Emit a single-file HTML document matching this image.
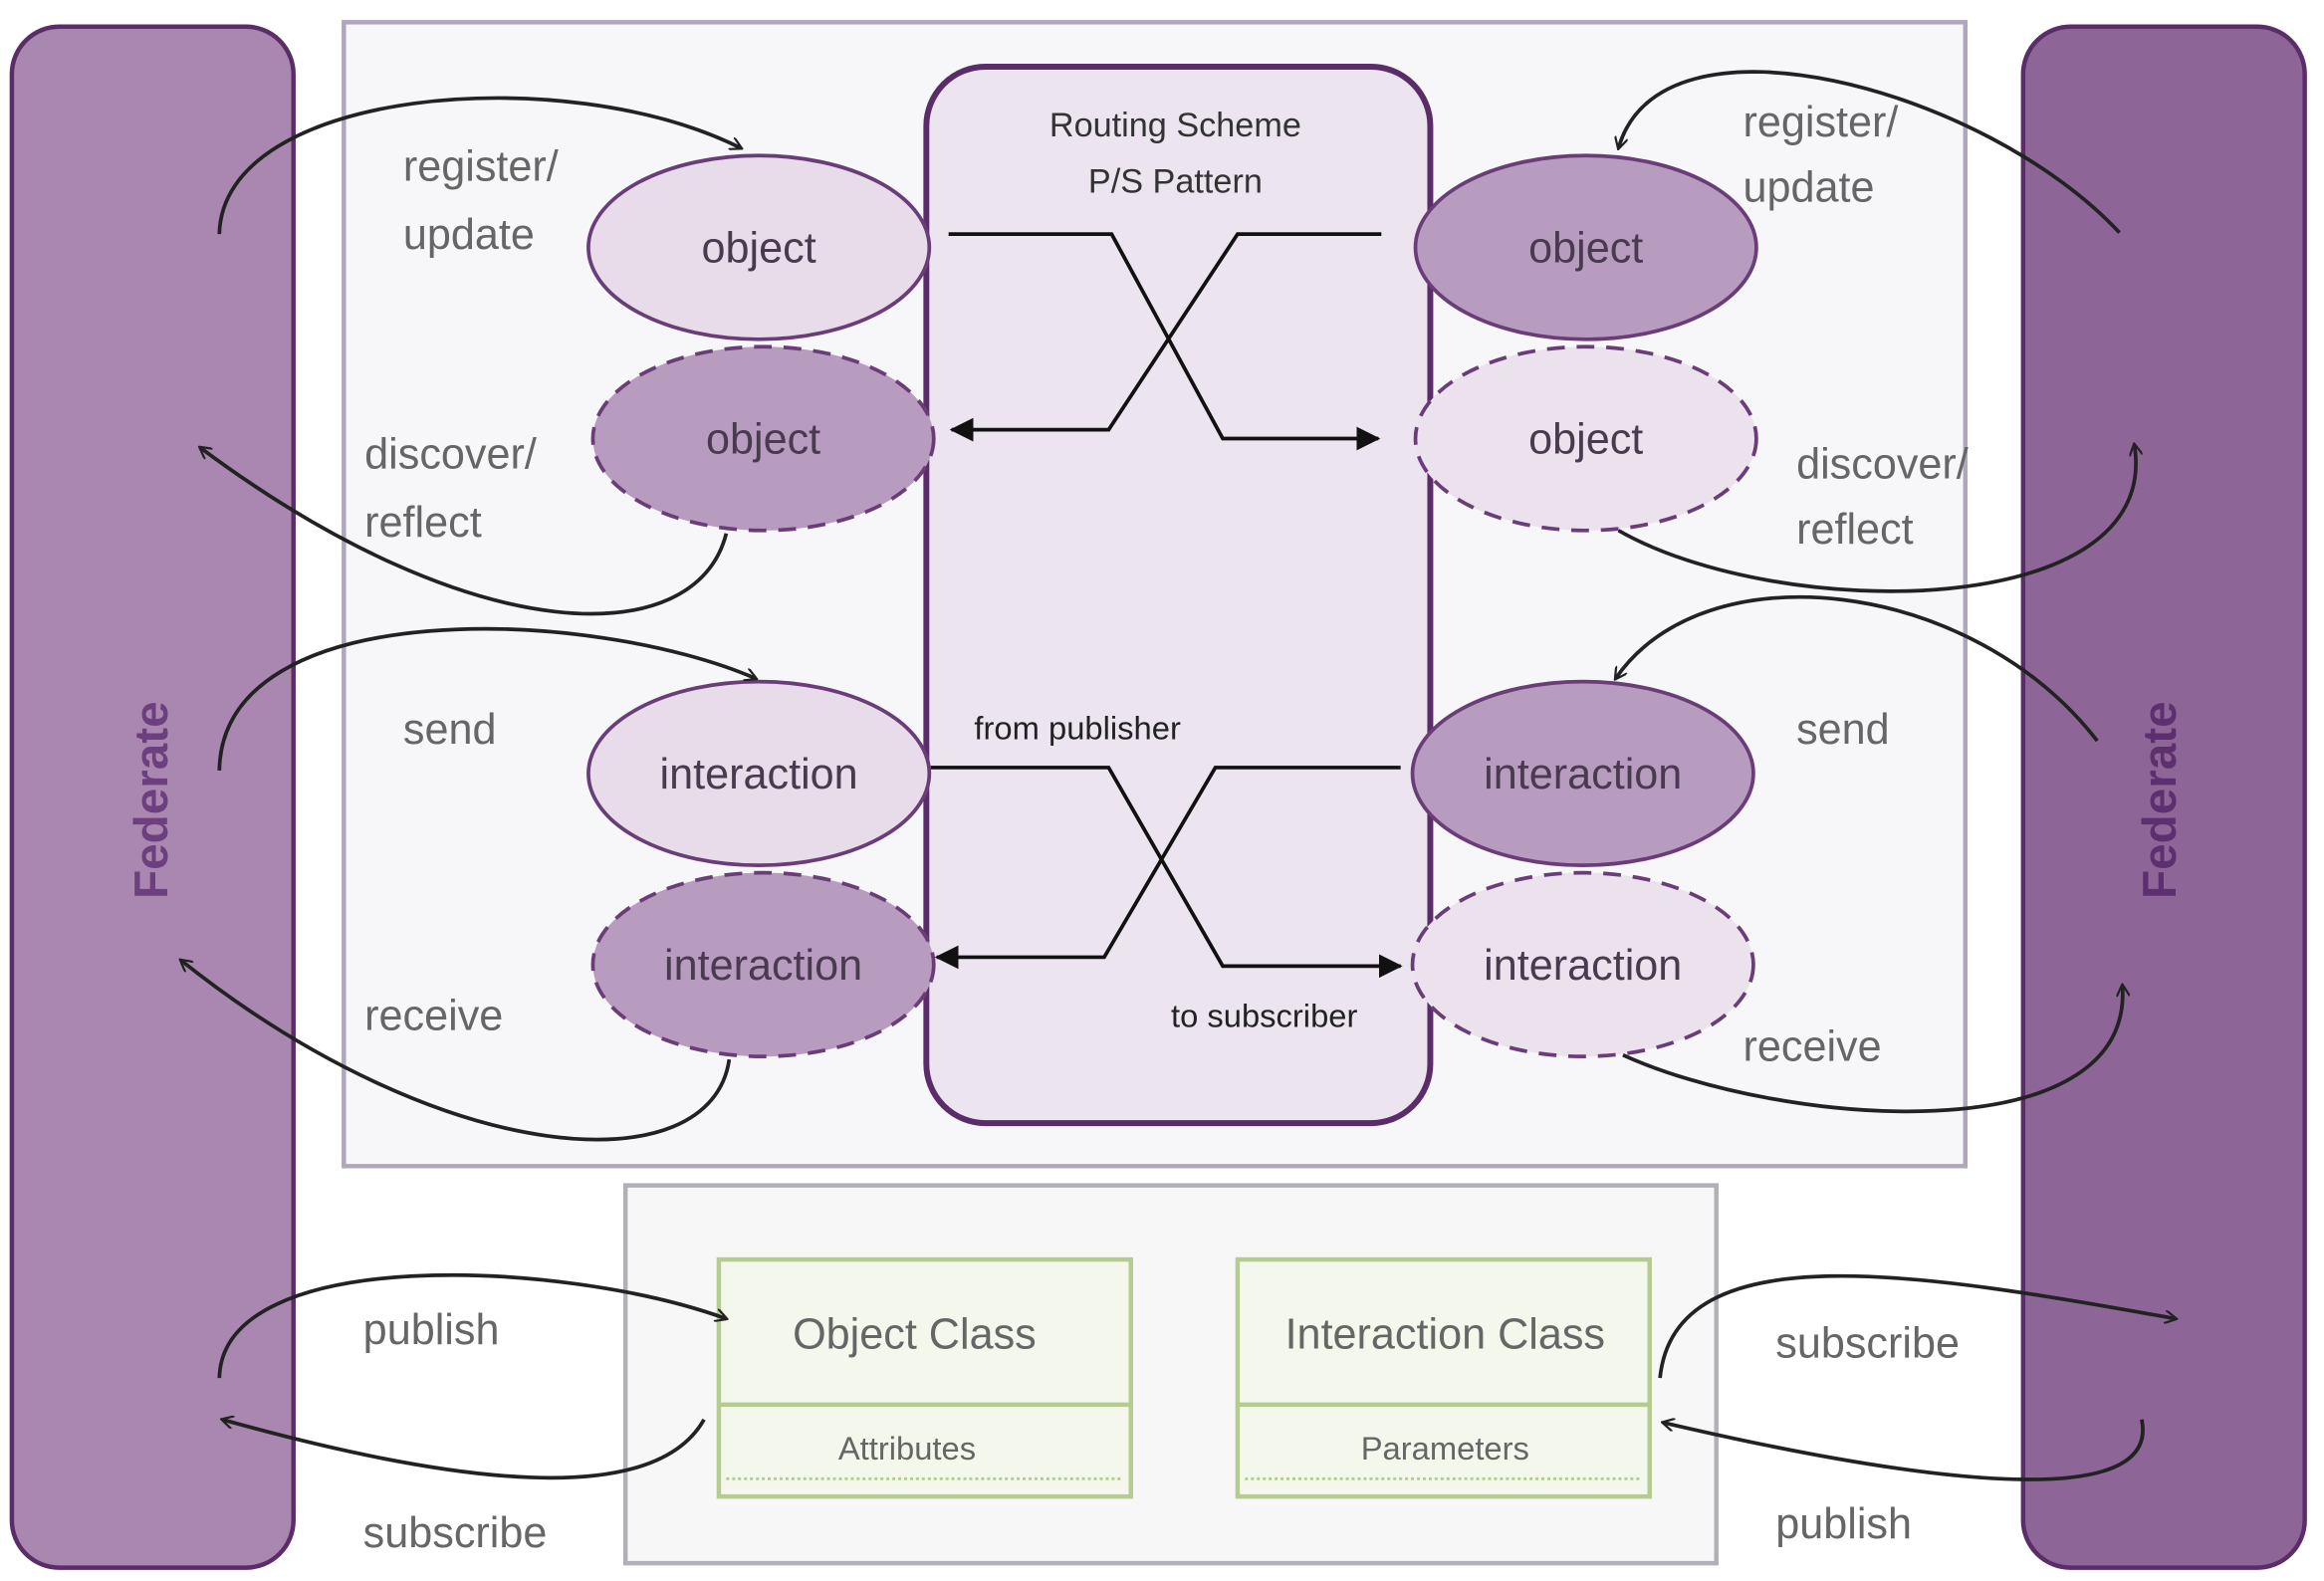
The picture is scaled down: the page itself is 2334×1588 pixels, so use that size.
<!DOCTYPE html>
<html><head><meta charset="utf-8"><style>html,body{margin:0;padding:0;background:#fff;}svg{display:block}</style></head>
<body>
<svg width="2334" height="1588" viewBox="0 0 1568 1067" preserveAspectRatio="none" xmlns="http://www.w3.org/2000/svg" font-family="'Liberation Sans', sans-serif">
<defs>
<marker id="a" viewBox="0 0 12 12" refX="10" refY="6" markerWidth="9" markerHeight="9" orient="auto" markerUnits="userSpaceOnUse"><path d="M0,0 L11,6 L0,12" fill="none" stroke="#222" stroke-width="2"/></marker>
<marker id="t" viewBox="0 0 12 12" refX="11" refY="6" markerWidth="16" markerHeight="16" orient="auto" markerUnits="userSpaceOnUse"><path d="M0,0 L12,6 L0,12 z" fill="#111"/></marker>
</defs>
<rect width="1568" height="1067" fill="#fff"/>
<!-- federates -->
<rect x="8" y="18" width="190" height="1040" rx="32" fill="#a987b0" stroke="#5a2d68" stroke-width="3"/>
<rect x="1365" y="18" width="190" height="1040" rx="32" fill="#8d6597" stroke="#5a2d68" stroke-width="3"/>
<text transform="translate(113,540) rotate(-90)" text-anchor="middle" font-size="32" font-weight="bold" fill="#6e3f7e">Federate</text>
<text transform="translate(1468,540) rotate(-90)" text-anchor="middle" font-size="32" font-weight="bold" fill="#5e2f6e">Federate</text>
<!-- main box -->
<rect x="232" y="15" width="1094" height="772" fill="#f7f6f8" stroke="#b0a6c0" stroke-width="3"/>
<rect x="625" y="45" width="340" height="713" rx="40" fill="#ece4ee" stroke="#5a2d68" stroke-width="4"/>
<text x="793" y="92" text-anchor="middle" font-size="23" fill="#333">Routing Scheme</text>
<text x="793" y="130" text-anchor="middle" font-size="23" fill="#333">P/S Pattern</text>
<!-- ellipses -->
<g stroke="#6a3d78" stroke-width="2.5" font-size="29" text-anchor="middle">
<ellipse cx="512" cy="167" rx="115" ry="62" fill="#e8dcea"/>
<ellipse cx="515" cy="296" rx="115" ry="62" fill="#b89cc0" stroke-dasharray="12 8"/>
<ellipse cx="512" cy="522" rx="115" ry="62" fill="#e8dcea"/>
<ellipse cx="515" cy="651" rx="115" ry="62" fill="#b89cc0" stroke-dasharray="12 8"/>
<ellipse cx="1070" cy="167" rx="115" ry="62" fill="#b89cc0"/>
<ellipse cx="1070" cy="296" rx="115" ry="62" fill="#ece2ee" stroke-dasharray="12 8"/>
<ellipse cx="1068" cy="522" rx="115" ry="62" fill="#b89cc0"/>
<ellipse cx="1068" cy="651" rx="115" ry="62" fill="#ece2ee" stroke-dasharray="12 8"/>
</g>
<g font-size="29" text-anchor="middle" fill="#4a3a50">
<text x="512" y="177">object</text><text x="515" y="306">object</text>
<text x="512" y="532">interaction</text><text x="515" y="661">interaction</text>
<text x="1070" y="177">object</text><text x="1070" y="306">object</text>
<text x="1068" y="532">interaction</text><text x="1068" y="661">interaction</text>
</g>
<!-- crossings -->
<g fill="none" stroke="#111" stroke-width="2.5">
<path d="M640,158 L750,158 L825,296 L930,296" marker-end="url(#t)"/>
<path d="M932,158 L835,158 L748,290 L642,290" marker-end="url(#t)"/>
<path d="M628,518 L748,518 L825,652 L945,652" marker-end="url(#t)"/>
<path d="M945,518 L820,518 L745,646 L632,646" marker-end="url(#t)"/>
</g>
<text x="727" y="499" text-anchor="middle" font-size="22" fill="#222">from publisher</text>
<text x="853" y="693" text-anchor="middle" font-size="22" fill="#222">to subscriber</text>
<!-- labels -->
<g font-size="29" fill="#666">
<text x="272" y="122">register/</text><text x="272" y="168">update</text>
<text x="246" y="316">discover/</text><text x="246" y="362">reflect</text>
<text x="272" y="502">send</text><text x="246" y="695">receive</text>
<text x="1176" y="92">register/</text><text x="1176" y="136">update</text>
<text x="1212" y="323">discover/</text><text x="1212" y="367">reflect</text>
<text x="1212" y="502">send</text><text x="1176" y="716">receive</text>
<text x="245" y="907">publish</text><text x="245" y="1044">subscribe</text>
<text x="1198" y="916">subscribe</text><text x="1198" y="1038">publish</text>
</g>
<!-- bottom box -->
<rect x="422" y="800" width="736" height="255" fill="#f7f7f8" stroke="#b0b0b8" stroke-width="3"/>
<g fill="#f4f7ec" stroke="#b5cc90" stroke-width="3">
<rect x="485" y="850" width="278" height="160"/><line x1="485" y1="948" x2="763" y2="948"/>
<rect x="835" y="850" width="278" height="160"/><line x1="835" y1="948" x2="1113" y2="948"/>
</g>
<g stroke="#b5cc90" stroke-width="2" stroke-dasharray="2 2"><line x1="490" y1="998" x2="758" y2="998"/><line x1="840" y1="998" x2="1108" y2="998"/></g>
<g font-size="29" fill="#666" text-anchor="middle">
<text x="617" y="910">Object Class</text><text x="975" y="910">Interaction Class</text>
</g>
<g font-size="22" fill="#666" text-anchor="middle">
<text x="612" y="985">Attributes</text><text x="975" y="985">Parameters</text>
</g>
<!-- curves -->
<g fill="none" stroke="#222" stroke-width="2.5" marker-end="url(#a)">
<path d="M148,158 C150,60 380,40 500,100"/>
<path d="M490,360 C470,440 320,440 135,302"/>
<path d="M148,520 C150,400 400,410 510,458"/>
<path d="M492,715 C480,800 300,790 122,648"/>
<path d="M148,930 C150,840 380,850 490,890"/>
<path d="M475,958 C440,1020 300,1000 150,958"/>
<path d="M1430,157 C1340,60 1120,0 1092,100"/>
<path d="M1092,358 C1200,420 1460,420 1440,300"/>
<path d="M1415,500 C1330,390 1150,370 1090,458"/>
<path d="M1095,712 C1200,760 1440,780 1432,665"/>
<path d="M1120,930 C1130,830 1300,860 1468,890"/>
<path d="M1445,958 C1460,1030 1250,990 1122,960"/>
</g>
</svg>
</body></html>
